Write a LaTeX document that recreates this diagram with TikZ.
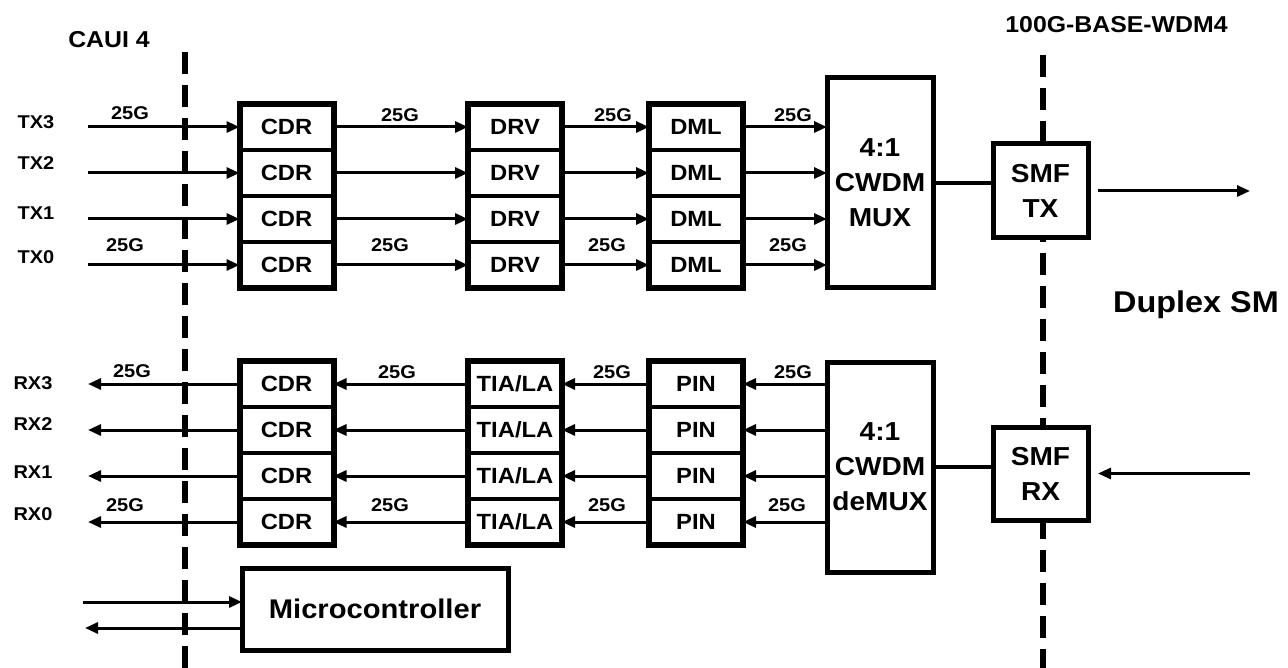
\documentclass[tikz,border=0pt]{standalone}
\usepackage{fontspec}
\setmainfont{Liberation Sans}[FakeStretch=1.08]
\usetikzlibrary{arrows.meta,fit}
\tikzset{
 lbl/.style={inner sep=0pt, font=\bfseries\fontsize{18.5pt}{22pt}\selectfont},
 hdr/.style={inner sep=0pt, font=\bfseries\fontsize{23pt}{27pt}\selectfont},
 blk/.style={draw, line width=3.5pt, rectangle, minimum width=94pt, minimum height=46pt, inner sep=0pt, outer sep=0pt, fill=white, font=\bfseries\fontsize{22pt}{26pt}\selectfont},
 grp/.style={draw, line width=6pt, inner sep=0pt, outer sep=0pt},
 big/.style={draw, line width=5pt, rectangle, inner sep=0pt, outer sep=0pt, fill=white, align=center, font=\bfseries\fontsize{26pt}{35pt}\selectfont},
 arr/.style={line width=3pt, -{Triangle[length=13pt,width=11pt]}},
 wire/.style={line width=3.5pt},
 bound/.style={line width=6pt, dash pattern=on 22pt off 11pt},
}
\begin{document}
\begin{tikzpicture}[x=1pt,y=-1pt]
\useasboundingbox (0,0) rectangle (1288,668);
% boundaries
\coordinate (lt) at (185,52); \coordinate (lb) at (185,668);
\coordinate (rt) at (1043,55); \coordinate (rb) at (1043,668);
\draw[bound] (lt) -- (lb);
\draw[bound] (rt) -- (rb);
\node[hdr] (caui) at (109,40) {CAUI 4};
\node[hdr] (wdm) at (1116.5,25) {100G-BASE-WDM4};
\node[anchor=base west, inner sep=0pt, font=\bfseries\fontsize{30pt}{36pt}\selectfont] (duplex) at (1113,313) {Duplex SM};

% ---------------- TX ----------------
\foreach \i/\y in {3/127,2/173,1/219,0/265}{
 \node[blk] (cdrT\i) at (286.5,\y) {CDR};
 \node[blk] (drv\i) at (515,\y) {DRV};
 \node[blk] (dml\i) at (696,\y) {DML};
 \coordinate (txin\i) at (88,\y);
}
\node[grp, fit=(cdrT3)(cdrT0)] (cdrTg) {};
\node[grp, fit=(drv3)(drv0)] (drvg) {};
\node[grp, fit=(dml3)(dml0)] (dmlg) {};
\node[big, minimum width=106pt, minimum height=210pt] (mux) at (880,183) {4:1\\CWDM\\MUX};
\node[big, minimum width=95pt, minimum height=94pt] (smftx) at (1040.5,191) {SMF\\TX};
\foreach \i in {0,...,3}{
 \draw[arr] (txin\i) -- (cdrT\i.west);
 \draw[arr] (cdrT\i.east) -- (drv\i.west);
 \draw[arr] (drv\i.east) -- (dml\i.west);
 \draw[arr] (dml\i.east) -- (dml\i.east -| mux.west);
}
\coordinate (mt) at ([yshift=8pt]smftx.west);
\draw[wire] (mt) -- (mt -| mux.east);
\coordinate (txout) at (1250,191);
\draw[arr] ([xshift=10pt]smftx.east) -- (txout);

\node[lbl] (tx3) at (36,122) {TX3};
\node[lbl] (tx2) at (36,163) {TX2};
\node[lbl] (tx1) at (36,213) {TX1};
\node[lbl] (tx0) at (36,257) {TX0};
\node[lbl] (ga1) at (130,113) {25G};
\node[lbl] (ga2) at (400,115) {25G};
\node[lbl] (ga3) at (613,115) {25G};
\node[lbl] (ga4) at (793,115) {25G};
\node[lbl] (gb1) at (125,245) {25G};
\node[lbl] (gb2) at (390,245) {25G};
\node[lbl] (gb3) at (607,245) {25G};
\node[lbl] (gb4) at (788,245) {25G};

% ---------------- RX ----------------
\foreach \i/\y in {3/384,2/430,1/476,0/522}{
 \node[blk] (cdrR\i) at (286.5,\y) {CDR};
 \node[blk] (tia\i) at (515,\y) {TIA/LA};
 \node[blk] (pin\i) at (696,\y) {PIN};
 \coordinate (rxout\i) at (88,\y);
}
\node[grp, fit=(cdrR3)(cdrR0)] (cdrRg) {};
\node[grp, fit=(tia3)(tia0)] (tiag) {};
\node[grp, fit=(pin3)(pin0)] (ping) {};
\node[big, minimum width=106pt, minimum height=210pt] (demux) at (880,467) {4:1\\CWDM\\deMUX};
\node[big, minimum width=95pt, minimum height=93pt] (smfrx) at (1040.5,473.5) {SMF\\RX};
\foreach \i in {0,...,3}{
 \draw[arr] (cdrR\i.west) -- (rxout\i);
 \draw[arr] (tia\i.west) -- (cdrR\i.east);
 \draw[arr] (pin\i.west) -- (tia\i.east);
 \draw[arr] (pin\i.east -| demux.west) -- (pin\i.east);
}
\coordinate (mr) at ([yshift=6.5pt]smfrx.west);
\draw[wire] (mr) -- (mr -| demux.east);
\coordinate (rxin) at (1250,473.5);
\draw[arr] (rxin) -- ([xshift=10pt]smfrx.east);

\node[lbl] (rx3) at (33,383) {RX3};
\node[lbl] (rx2) at (33,424) {RX2};
\node[lbl] (rx1) at (33,472) {RX1};
\node[lbl] (rx0) at (33,514) {RX0};
\node[lbl] (gc1) at (132,371) {25G};
\node[lbl] (gc2) at (397,372) {25G};
\node[lbl] (gc3) at (612,372) {25G};
\node[lbl] (gc4) at (793,372) {25G};
\node[lbl] (gd1) at (125,505) {25G};
\node[lbl] (gd2) at (390,505) {25G};
\node[lbl] (gd3) at (607,505) {25G};
\node[lbl] (gd4) at (787,505) {25G};

% ---------------- Microcontroller ----------------
\node[big, minimum width=266pt, minimum height=82pt, font=\bfseries\fontsize{27pt}{32pt}\selectfont] (mcu) at (375,609) {Microcontroller};
\coordinate (mcin) at (83,602);
\draw[arr] (mcin) -- (mcin -| mcu.west);
\coordinate (mcout) at (85,628);
\draw[arr] (mcout -| mcu.west) -- (mcout);
\end{tikzpicture}
\end{document}
